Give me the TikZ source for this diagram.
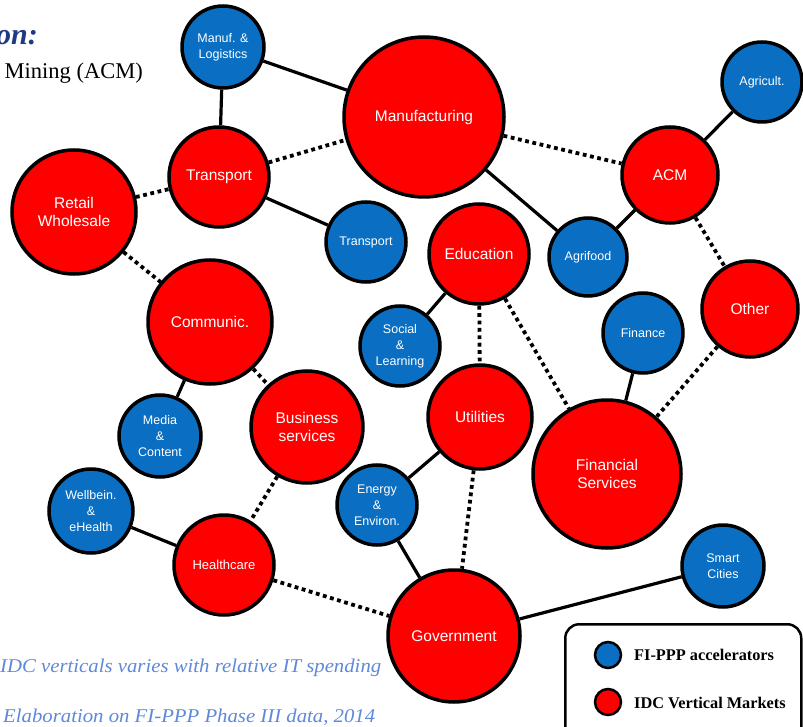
\documentclass[tikz,border=0pt]{standalone}
\usepackage{fontspec}
\setmainfont{Liberation Sans}
\newfontfamily\serifF{Liberation Serif}
\usetikzlibrary{backgrounds}
\definecolor{accblue}{HTML}{0A6FC2}
\definecolor{idcred}{HTML}{FF0000}
\definecolor{navytitle}{HTML}{1F3A84}
\definecolor{notecol}{HTML}{5E88D8}
\tikzset{
  bubble/.style={circle, draw=black, line width=3.5pt, inner sep=0pt, align=center, text=white},
  acc/.style={bubble, fill=accblue, font=\fontsize{12.5}{16}\selectfont},
  idc/.style={bubble, fill=idcred, font=\fontsize{15.5}{18}\selectfont},
  solidlink/.style={line width=3.2pt},
  dotlink/.style={line width=3.8pt, dash pattern=on 3.8pt off 3.6pt},
  notetext/.style={anchor=base west, inner sep=0pt, text=notecol, font=\serifF\itshape\fontsize{19.5}{22}\selectfont},
  legtext/.style={anchor=west, inner sep=0pt, font=\serifF\bfseries\fontsize{16.3}{18}\selectfont},
}
\begin{document}
\begin{tikzpicture}[x=1pt,y=-1pt]
\useasboundingbox (0,0) rectangle (803,727);
\clip (0,0) rectangle (803,727);
% text at left
\node[anchor=base east, inner sep=0pt, text=navytitle, font=\serifF\bfseries\itshape\fontsize{30}{34}\selectfont] (title) at (38,45) {on:};
\node[anchor=base east, inner sep=0pt, font=\serifF\fontsize{22.5}{26}\selectfont] (sub) at (143,79) {Mining (ACM)};
\node[notetext] (note1) at (0,672) {\scalebox{1.065}[1]{IDC verticals varies with relative IT spending}};
\node[notetext] (note2) at (3,722) {\scalebox{1.065}[1]{Elaboration on FI-PPP Phase III data, 2014}};
% blue nodes
\node[acc, minimum size=82pt] (manlog) at (223,47) {Manuf. \&\\Logistics};
\node[acc, minimum size=80pt] (agri) at (762,82) {Agricult.};
\node[acc, minimum size=80pt] (trb) at (366,242) {Transport};
\node[acc, minimum size=78pt] (agrifood) at (588,257) {Agrifood};
\node[acc, minimum size=80pt] (social) at (400,346) {Social\\\&\\Learning};
\node[acc, minimum size=80pt] (finance) at (643,333) {Finance};
\node[acc, minimum size=82pt] (media) at (160,436) {Media\\\&\\Content};
\node[acc, minimum size=84pt] (well) at (91,511) {Wellbein.\\\&\\eHealth};
\node[acc, minimum size=80pt] (energy) at (377,505) {Energy\\\&\\Environ.};
\node[acc, minimum size=82pt] (smart) at (723,566) {Smart\\Cities};
% red nodes
\node[idc, minimum size=160pt] (manuf) at (424,117) {Manufacturing};
\node[idc, minimum size=100pt] (trr) at (219,177) {Transport};
\node[idc, minimum size=96pt] (acm) at (670,175) {ACM};
\node[idc, minimum size=124pt] (retail) at (74,212) {Retail\\Wholesale};
\node[idc, minimum size=100pt] (edu) at (479,254) {Education};
\node[idc, minimum size=96pt] (other) at (750,309) {Other};
\node[idc, minimum size=124pt] (comm) at (210,322) {Communic.};
\node[idc, minimum size=112pt] (bus) at (307,427) {Business\\services};
\node[idc, minimum size=104pt] (util) at (480,417) {Utilities};
\node[idc, minimum size=148pt] (fin) at (607,474) {Financial\\Services};
\node[idc, minimum size=100pt, font=\fontsize{13}{16}\selectfont] (health) at (224,565) {Healthcare};
\node[idc, minimum size=132pt] (gov) at (454,636) {Government};
% connectors
\begin{scope}[on background layer]
\draw[solidlink] (manlog) -- (manuf);
\draw[solidlink] (manlog) -- (trr);
\draw[solidlink] (trr) -- (trb);
\draw[solidlink] (manuf) -- (agrifood);
\draw[solidlink] (agrifood) -- (acm);
\draw[solidlink] (acm) -- (agri);
\draw[solidlink] (edu) -- (social);
\draw[solidlink] (comm) -- (media);
\draw[solidlink] (finance) -- (fin);
\draw[solidlink] (util) -- (energy);
\draw[solidlink] (energy) -- (gov);
\draw[solidlink] (well) -- (health);
\draw[solidlink] (gov) -- (smart);
\draw[dotlink] (trr) -- (manuf);
\draw[dotlink] (retail) -- (trr);
\draw[dotlink] (manuf) -- (acm);
\draw[dotlink] (retail) -- (comm);
\draw[dotlink] (comm) -- (bus);
\draw[dotlink] (bus) -- (health);
\draw[dotlink] (health) -- (gov);
\draw[dotlink] (edu) -- (util);
\draw[dotlink] (edu) -- (fin);
\draw[dotlink] (util) -- (gov);
\draw[dotlink] (acm) -- (other);
\draw[dotlink] (other) -- (fin);
\end{scope}
% legend
\node[draw=black, line width=2.5pt, rounded corners=14pt, minimum width=236pt, minimum height=120pt, anchor=north west] (legend) at (564,623) {};
\node[circle, draw=black, line width=2.5pt, fill=accblue, minimum size=26pt, inner sep=0pt] (legacc) at (608,655) {};
\node[circle, draw=black, line width=2.5pt, fill=idcred, minimum size=26pt, inner sep=0pt] (legidc) at (608,702) {};
\node[legtext] (legacct) at (634,655) {FI-PPP accelerators};
\node[legtext] (legidct) at (634,703) {IDC Vertical Markets};
\end{tikzpicture}
\end{document}
